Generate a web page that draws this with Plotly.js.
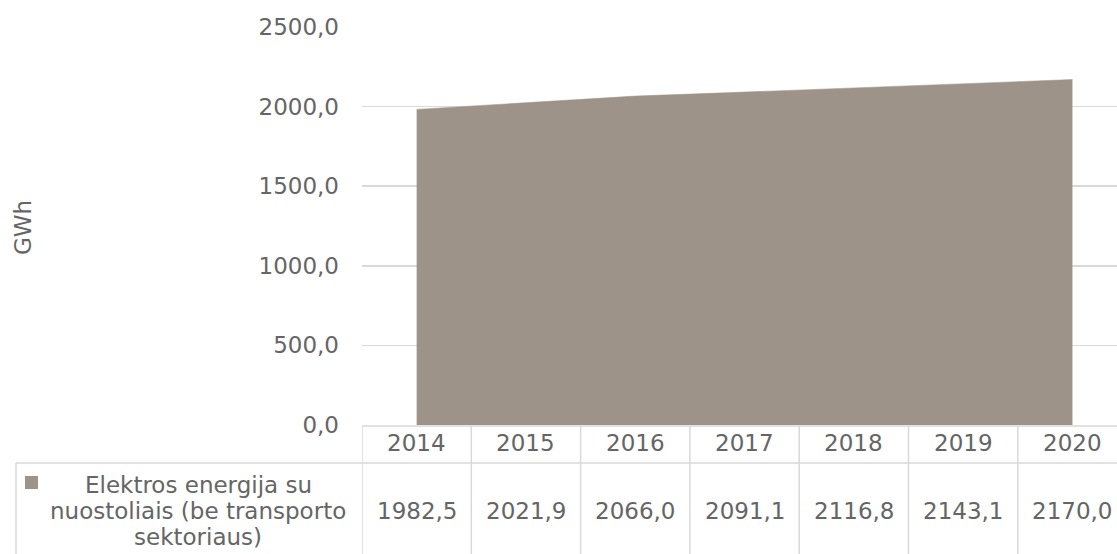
<!DOCTYPE html>
<html>
<head>
<meta charset="utf-8">
<script src="https://cdn.plot.ly/plotly-3.0.1.min.js"></script>
<style>html,body{margin:0;padding:0;background:#fff;}#chart{width:1117px;height:554px;}</style>
</head>
<body>
<div id="chart"></div>
<script>
const years = ["2014", "2015", "2016", "2017", "2018", "2019", "2020"];
const values = [1982.5, 2021.9, 2066.0, 2091.1, 2116.8, 2143.1, 2170.0];
const seriesName = "Elektros energija su nuostoliais (be transporto sektoriaus)";
const seriesNameLines = ["Elektros energija su", "nuostoliais (be transporto", "sektoriaus)"];
const yTicks = [0, 500, 1000, 1500, 2000, 2500];
const yTitle = "GWh";

const W = 1117, H = 554;
const L = 362, T = 27, B = 129;
const plotH = H - T - B;
const py = y => (H - B - y) / plotH;          // pixel y -> paper y
const px = x => (x - L) / (W - L);            // pixel x -> paper x
const colW = 109.3;
const xMax = -0.5 + (W - L) / colW;

const textColor = "#656565";
const lineColor = "#d9d9d9";
const areaColor = "rgb(157,147,137)";
const font = {family: "DejaVu Sans, Verdana, sans-serif", size: 23, color: textColor};
const fmt = v => v.toFixed(1).replace(".", ",");

const idx = years.map((_, i) => i);

const trace = {
  type: "scatter",
  x: idx,
  y: values,
  name: seriesName,
  mode: "lines",
  fill: "tozeroy",
  fillcolor: areaColor,
  line: {color: areaColor, width: 0.5},
  hoverinfo: "skip",
  showlegend: false
};

const shapes = [];
const lineStyle = {color: lineColor, width: 1.5};
// header top
shapes.push({type: "line", xref: "paper", yref: "paper", x0: 0, x1: 1, y0: py(426), y1: py(426), line: lineStyle});
// body top
shapes.push({type: "line", xref: "paper", yref: "paper", x0: px(16), x1: 1, y0: py(463), y1: py(463), line: lineStyle});
// left border of legend cell
shapes.push({type: "line", xref: "paper", yref: "paper", x0: px(16), x1: px(16), y0: py(463), y1: py(H + 5), line: lineStyle});
// vertical column borders
for (let i = 0; i < years.length; i++) {
  shapes.push({type: "line", xref: "x", yref: "paper", x0: i - 0.5, x1: i - 0.5, y0: py(426), y1: py(H + 5), line: lineStyle});
}
// legend key
shapes.push({type: "rect", xref: "paper", yref: "paper", x0: px(25), x1: px(38), y0: py(489), y1: py(476),
  fillcolor: areaColor, line: {width: 0}});

const annotations = [];
years.forEach((yr, i) => {
  annotations.push({xref: "x", yref: "paper", x: i, y: py(443), text: yr, showarrow: false,
    font: font, xanchor: "center", yanchor: "middle"});
  annotations.push({xref: "x", yref: "paper", x: i, y: py(511), text: fmt(values[i]), showarrow: false,
    font: font, xanchor: "center", yanchor: "middle"});
});
const legendY = [485, 511, 537];
seriesNameLines.forEach((t, k) => {
  annotations.push({xref: "paper", yref: "paper", x: px(198), y: py(legendY[k]), text: t, showarrow: false,
    font: font, xanchor: "center", yanchor: "middle"});
});
annotations.push({xref: "paper", yref: "paper", x: px(23), y: py(228), text: yTitle, textangle: -90,
  showarrow: false, font: font, xanchor: "center", yanchor: "middle"});

const layout = {
  width: W, height: H,
  margin: {l: L, r: 0, t: T, b: B, pad: 0},
  paper_bgcolor: "#ffffff",
  plot_bgcolor: "#ffffff",
  separators: ", ",
  font: font,
  showlegend: false,
  xaxis: {
    type: "linear",
    range: [-0.5, xMax],
    showgrid: false, zeroline: false, showline: false,
    showticklabels: false, ticks: "",
    fixedrange: true
  },
  yaxis: {
    range: [0, 2500],
    tickvals: yTicks,
    tickformat: ".1f",
    showgrid: true, gridcolor: lineColor, gridwidth: 1.5,
    zeroline: false, showline: false, ticks: "",
    ticklabelstandoff: 22,
    tickfont: font,
    fixedrange: true
  },
  shapes: shapes,
  annotations: annotations
};

Plotly.newPlot("chart", [trace], layout, {displayModeBar: false, staticPlot: true});
</script>
</body>
</html>
